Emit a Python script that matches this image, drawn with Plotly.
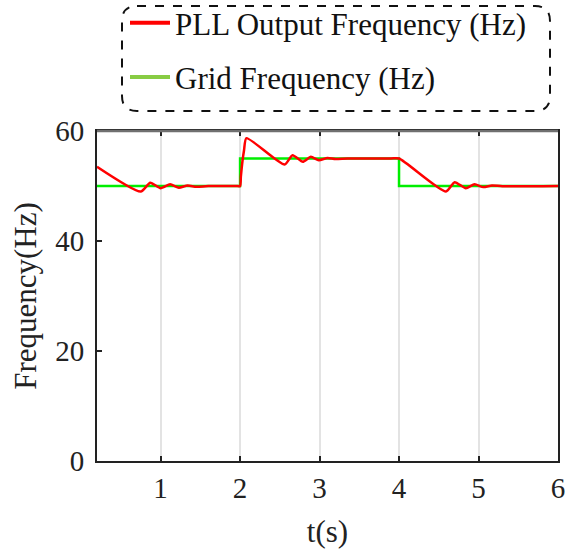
import plotly.graph_objects as go

# ---- data ----
t_pll = [0.2, 0.75, 0.87, 1.0, 1.12, 1.23, 1.34, 1.45, 1.6, 1.95, 2.0, 2.01, 2.03, 2.05, 2.08,
         2.56, 2.66, 2.79, 2.89, 2.99, 3.1, 3.2, 3.35, 3.9, 4.0, 4.59, 4.70, 4.84, 4.95, 5.06,
         5.17, 5.3, 6.0]
f_pll = [53.5, 49.0, 50.6, 49.6, 50.3, 49.7, 50.1, 49.85, 50.0, 50.0, 50.0, 51.7, 54.5, 56.5, 58.7,
         53.9, 55.6, 54.4, 55.3, 54.7, 55.1, 54.9, 55.0, 55.0, 55.0, 49.0, 50.7, 49.6, 50.3, 49.8,
         50.1, 49.95, 50.0]
t_grid = [0.2, 2.0, 2.0, 4.0, 4.0, 6.0]
f_grid = [50, 50, 55, 55, 50, 50]
x_ticks = [1, 2, 3, 4, 5, 6]
y_ticks = [0, 20, 40, 60]
names = ["PLL Output Frequency (Hz)", "Grid Frequency (Hz)"]

FONT = "Liberation Serif"

fig = go.Figure()
fig.add_trace(go.Scatter(x=t_grid, y=f_grid, mode="lines",
                         line=dict(color="#00ee00", width=2.5), showlegend=False))
fig.add_trace(go.Scatter(x=t_pll, y=f_pll, mode="lines",
                         line=dict(color="#ff0000", width=2.5, shape="spline", smoothing=0.6),
                         showlegend=False))
# legend entries
fig.add_trace(go.Scatter(x=[None], y=[None], mode="lines", name=names[0], legendgroup="a",
                         line=dict(color="#ff0000", width=4)))
fig.add_trace(go.Scatter(x=[None], y=[None], mode="lines", name=names[1], legendgroup="b",
                         line=dict(color="#88cc44", width=4)))

L, R, T, B = 97, 7, 131, 93
W, H = 565, 554
pw, ph = W - L - R, H - T - B

def px(x):
    return (x - L) / pw

def py(y):
    return (H - B - y) / ph

# dashed rounded legend box
x0, x1, y0, y1 = px(122), px(550), py(6), py(111)
rx, ry = 15 / pw, 15 / ph
path = (f"M{x0+rx},{y0} L{x1-rx},{y0} Q{x1},{y0} {x1},{y0-ry} "
        f"L{x1},{y1+ry} Q{x1},{y1} {x1-rx},{y1} L{x0+rx},{y1} "
        f"Q{x0},{y1} {x0},{y1+ry} L{x0},{y0-ry} Q{x0},{y0} {x0+rx},{y0} Z")

fig.update_layout(
    width=W, height=H,
    margin=dict(l=L, r=R, t=T, b=B, autoexpand=False),
    paper_bgcolor="white", plot_bgcolor="white",
    font=dict(family=FONT, size=28, color="#222222"),
    showlegend=True,
    legend=dict(x=px(125), y=py(-4), xanchor="left", yanchor="top",
                font=dict(family=FONT, size=31, color="#111111"),
                bgcolor="rgba(0,0,0,0)", borderwidth=0,
                traceorder="grouped", tracegroupgap=11, itemwidth=40),
    shapes=[
        dict(type="path", path=path, xref="paper", yref="paper",
             line=dict(color="#111111", width=2, dash="dash")),
        dict(type="line", xref="paper", yref="paper", x0=0, x1=1, y0=1, y1=1,
             line=dict(color="#707070", width=2.5), layer="above"),
    ],
    xaxis=dict(range=[0.2, 6], tickvals=x_ticks, ticks="inside", ticklen=5, tickwidth=2,
               tickcolor="#222222", showline=True, linecolor="#222222", linewidth=2,
               mirror="ticks", showgrid=True, gridcolor="#e3e3e3", gridwidth=1.5,
               zeroline=False, tickfont=dict(family=FONT, size=29), automargin=False,
               ticklabeloverflow="allow",
               title=dict(text="t(s)", font=dict(family=FONT, size=31), standoff=18)),
    yaxis=dict(range=[0, 60], tickvals=y_ticks, ticks="inside", ticklen=5, tickwidth=2,
               tickcolor="#222222", showline=True, linecolor="#222222", linewidth=2,
               mirror=True, showgrid=False, zeroline=False, ticklabelstandoff=5,
               tickfont=dict(family=FONT, size=29), automargin=False,
               ticklabeloverflow="allow",
               title=dict(text="Frequency(Hz)", font=dict(family=FONT, size=31), standoff=9)),
)

fig.write_html("out.html")
